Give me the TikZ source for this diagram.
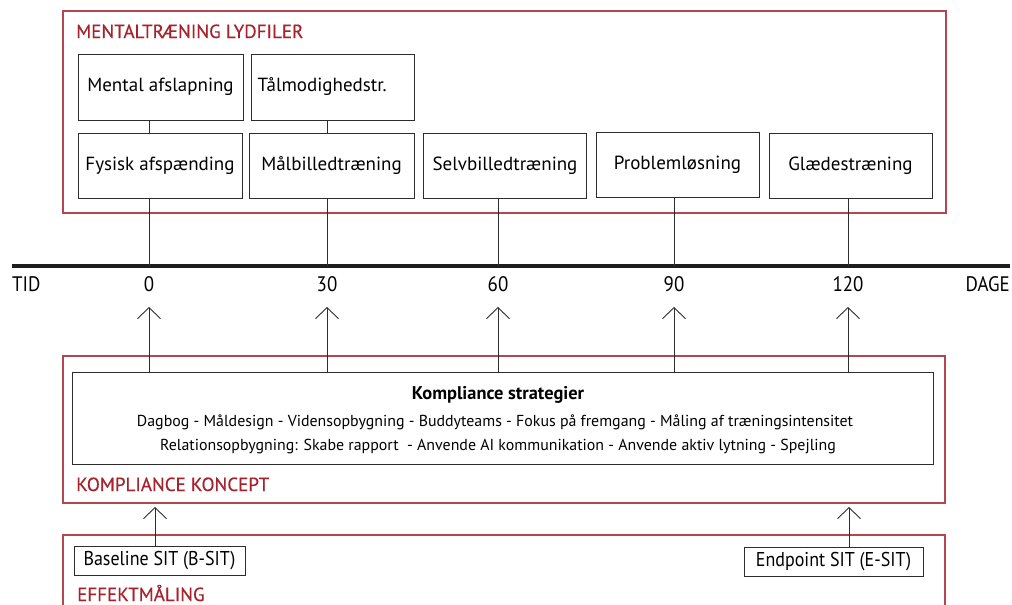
\documentclass[tikz,border=0pt]{standalone}
\usepackage{fontspec}
\setmainfont{PT Sans}
\newfontfamily\condfont[FakeStretch=0.9]{PT Sans}
\newfontfamily\redfont[FakeBold=0.4]{PT Sans}
\usetikzlibrary{arrows.meta}
\definecolor{redline}{RGB}{180,70,80}
\definecolor{redtext}{RGB}{165,35,45}
\definecolor{boxline}{RGB}{45,45,45}
\begin{document}
\begin{tikzpicture}[x=1pt,y=-1pt,
  redframe/.style={draw=redline,line width=1.1pt},
  redtitle/.style={anchor=base west,inner sep=0pt,text=redtext,font=\redfont\fontsize{19}{22}\selectfont},
  box/.style={draw=boxline,line width=0.9pt,inner sep=0pt,font=\fontsize{19}{22}\selectfont},
  smallbox/.style={draw=boxline,line width=0.9pt,inner sep=0pt,font=\condfont\fontsize{20}{22}\selectfont},
  conn/.style={draw=boxline,line width=0.9pt},
  uparrow/.style={conn,-{Straight Barb[length=11pt,width=23pt,line width=0.9pt]}},
  tick/.style={inner sep=0pt,font=\condfont\fontsize{21}{23}\selectfont},
  ktext/.style={inner sep=0pt,font=\fontsize{15.9}{18}\selectfont}]
\useasboundingbox (0,0) rectangle (1012,605);
\clip (0,0) rectangle (1012,605);
% frames
\draw[redframe] (63,11) rectangle (946,213);
\draw[redframe] (63,356) rectangle (945,503);
\draw[redframe] (63,535) rectangle (945,640);
\node[redtitle] (t1) at (76,38) {MENTALTRÆNING LYDFILER};
\node[redtitle] (t2) at (76,491) {KOMPLIANCE KONCEPT};
\node[redtitle] (t3) at (77,601) {EFFEKTMÅLING};
% timeline
\coordinate (L) at (12,266);
\coordinate (R) at (1010,266);
\draw[line width=4pt,draw={rgb,255:red,30;green,30;blue,30}] (L) -- (R);
\coordinate (k0) at (149,266);
\coordinate (k1) at (327,266);
\coordinate (k2) at (498,266);
\coordinate (k3) at (674,266);
\coordinate (k4) at (848,266);
\node[tick,anchor=west] (tid) at (12,284) {TID};
\node[tick] (n0) at (149,284) {0};
\node[tick] (n1) at (327,284) {30};
\node[tick] (n2) at (498,284) {60};
\node[tick] (n3) at (674,284) {90};
\node[tick] (n4) at (848,284) {120};
\node[tick,anchor=east] (dage) at (1010,284) {DAGE};
% top boxes
\node[box,minimum width=165pt,minimum height=66pt] (ma) at (160.5,87) {Mental afslapning};
\node[box,minimum width=163pt,minimum height=66pt,align=left,text width=150pt] (tm) at (332.5,87) {Tålmodighedstr.};
\node[box,minimum width=164pt,minimum height=65pt] (fa) at (160,165.5) {Fysisk afspænding};
\node[box,minimum width=165pt,minimum height=65pt] (mb) at (331.5,165.5) {Målbilledtræning};
\node[box,minimum width=163pt,minimum height=65pt] (sb) at (505,165.5) {Selvbilledtræning};
\node[box,minimum width=163pt,minimum height=65pt] (pl) at (677.5,164.5) {Problemløsning};
\node[box,minimum width=163pt,minimum height=65pt] (gl) at (850.5,165.5) {Glædestræning};
\draw[conn] (ma.south -| k0) -- (fa.north -| k0);
\draw[conn] (tm.south -| k1) -- (mb.north -| k1);
\draw[conn] (fa.south -| k0) -- (k0);
\draw[conn] (mb.south -| k1) -- (k1);
\draw[conn] (sb.south -| k2) -- (k2);
\draw[conn] (pl.south -| k3) -- (k3);
\draw[conn] (gl.south -| k4) -- (k4);
% kompliance box
\node[draw=boxline,line width=0.9pt,minimum width=861pt,minimum height=92pt,inner sep=0pt] (ks) at (502.5,418) {};
\node[inner sep=0pt,font=\bfseries\fontsize{18.4}{21}\selectfont] (kst) at (498,395) {Kompliance strategier};
\node[ktext] (kl1) at (495,422) {Dagbog - Måldesign - Vidensopbygning - Buddyteams - Fokus på fremgang - Måling af træningsintensitet};
\node[ktext] (kl2) at (498,447) {Relationsopbygning: Skabe rapport\ \ - Anvende AI kommunikation - Anvende aktiv lytning - Spejling};
\coordinate (a0) at (149,307);
\coordinate (a1) at (327,307);
\coordinate (a2) at (498,307);
\coordinate (a3) at (674,307);
\coordinate (a4) at (848,307);
\draw[uparrow] (ks.north -| a0) -- (a0);
\draw[uparrow] (ks.north -| a1) -- (a1);
\draw[uparrow] (ks.north -| a2) -- (a2);
\draw[uparrow] (ks.north -| a3) -- (a3);
\draw[uparrow] (ks.north -| a4) -- (a4);
% effektmaling
\node[smallbox,minimum width=171pt,minimum height=29pt] (bs) at (159.5,560.5) {Baseline SIT (B-SIT)};
\node[smallbox,minimum width=179pt,minimum height=29pt] (es) at (833.5,561.5) {Endpoint SIT (E-SIT)};
\coordinate (b0) at (155,507);
\coordinate (b1) at (849,507);
\draw[uparrow] (bs.north -| b0) -- (b0);
\draw[uparrow] (es.north -| b1) -- (b1);
\end{tikzpicture}
\end{document}
